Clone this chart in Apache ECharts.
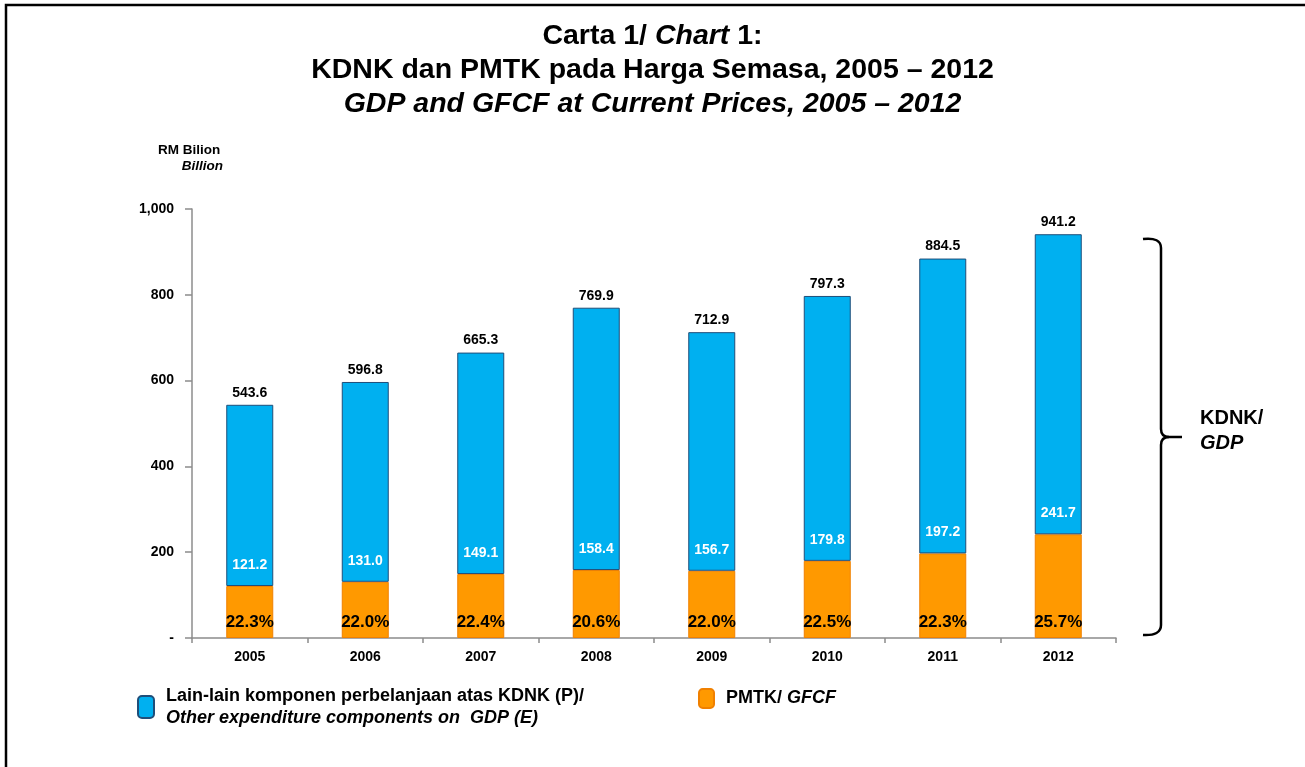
<!DOCTYPE html>
<html>
<head>
<meta charset="utf-8">
<script src="https://cdn.jsdelivr.net/npm/echarts@6/dist/echarts.min.js"></script>
<style>html,body{margin:0;padding:0;background:#fff;}#c{width:1305px;height:767px;}</style>
</head>
<body>
<div id="c"></div>
<script>
var years = ['2005','2006','2007','2008','2009','2010','2011','2012'];
var gdp = [543.6, 596.8, 665.3, 769.9, 712.9, 797.3, 884.5, 941.2];
var gfcf = [121.2, 131.0, 149.1, 158.4, 156.7, 179.8, 197.2, 241.7];
var pct = ['22.3%', '22.0%', '22.4%', '20.6%', '22.0%', '22.5%', '22.3%', '25.7%'];
var yTicks = ['-', '200', '400', '600', '800', '1,000'];

var FONT = '"Liberation Sans", Arial, sans-serif';
var other = gdp.map(function (v, i) { return +(v - gfcf[i]).toFixed(1); });
var nameOther = 'Lain-lain komponen perbelanjaan atas KDNK (P)/';
var nameGfcf = 'PMTK/ GFCF';

var BR = { stroke: '#000', lineWidth: 2.5, fill: 'none' };
function bz(x1, y1, cx, cy, x2, y2) {
  return { type: 'bezierCurve', shape: { x1: x1, y1: y1, x2: x2, y2: y2, cpx1: cx, cpy1: cy }, style: BR, silent: true };
}
function ln(x1, y1, x2, y2) {
  return { type: 'line', shape: { x1: x1, y1: y1, x2: x2, y2: y2 }, style: BR, silent: true };
}

var chart = echarts.init(document.getElementById('c'));
chart.setOption({
  backgroundColor: '#fff',
  animation: false,
  textStyle: { fontFamily: FONT },
  title: {
    left: 'center', top: 14,
    text: '{b|Carta 1/ }{bi|Chart}{b| 1:}\n{b|KDNK dan PMTK pada Harga Semasa, 2005 – 2012}\n{bi|GDP and GFCF at Current Prices, 2005 – 2012}',
    textStyle: {
      rich: {
        b: { fontFamily: FONT, fontSize: 28.5, fontWeight: 'bold', color: '#000', lineHeight: 34 },
        bi: { fontFamily: FONT, fontSize: 28.5, fontWeight: 'bold', fontStyle: 'italic', color: '#000', lineHeight: 34 }
      }
    }
  },
  grid: { left: 192, right: 189, top: 209, bottom: 129 },
  legend: [
    {
      data: [nameOther], left: 137, top: 687, padding: 0, itemWidth: 16, itemHeight: 22,
      icon: 'roundRect', selectedMode: false,
      formatter: function () { return '{a|Lain-lain komponen perbelanjaan atas KDNK (P)/}\n{i|Other expenditure components on  GDP (E)}'; },
      textStyle: {
        rich: {
          a: { fontFamily: FONT, fontSize: 18, fontWeight: 'bold', color: '#000', lineHeight: 22, padding: [0, 0, 0, 7] },
          i: { fontFamily: FONT, fontSize: 18, fontWeight: 'bold', fontStyle: 'italic', color: '#000', lineHeight: 22, padding: [0, 0, 0, 7] }
        }
      }
    },
    {
      data: [nameGfcf], left: 698, top: 688, padding: 0, itemWidth: 15, itemHeight: 19,
      icon: 'roundRect', selectedMode: false,
      formatter: function () { return '{a|PMTK/ }{i|GFCF}'; },
      textStyle: {
        rich: {
          a: { fontFamily: FONT, fontSize: 18, fontWeight: 'bold', color: '#000', padding: [0, 0, 0, 7] },
          i: { fontFamily: FONT, fontSize: 18, fontWeight: 'bold', fontStyle: 'italic', color: '#000' }
        }
      }
    }
  ],
  xAxis: {
    type: 'category', data: years,
    axisLine: { lineStyle: { color: '#8c8c8c', width: 1.5 } },
    axisTick: { show: true, length: 5, lineStyle: { color: '#8c8c8c', width: 1.5 } },
    axisLabel: { color: '#000', fontFamily: FONT, fontWeight: 'bold', fontSize: 14, margin: 12 }
  },
  yAxis: {
    type: 'value', min: 0, max: 1000, interval: 200,
    splitLine: { show: false },
    axisLine: { show: true, lineStyle: { color: '#8c8c8c', width: 1.5 } },
    axisTick: { show: true, length: 7, lineStyle: { color: '#8c8c8c', width: 1.5 } },
    axisLabel: {
      color: '#000', fontFamily: FONT, fontWeight: 'bold', fontSize: 14, margin: 18,
      formatter: function (v) { return yTicks[Math.round(v / 200)]; }
    }
  },
  series: [
    {
      name: nameGfcf, type: 'bar', stack: 'g', barWidth: 47, data: gfcf,
      itemStyle: { color: '#FF9900', borderColor: '#F08000', borderWidth: 1 },
      label: {
        show: true, position: 'insideBottom', distance: 7,
        formatter: function (p) { return pct[p.dataIndex]; },
        color: '#000', fontFamily: FONT, fontWeight: 'bold', fontSize: 17
      },
      z: 2
    },
    {
      name: nameOther, type: 'bar', stack: 'g', barWidth: 47, data: other,
      itemStyle: { color: '#00B0F0', borderColor: '#1F4E79', borderWidth: 1 },
      label: {
        show: true, position: 'top', distance: 5,
        formatter: function (p) { return gdp[p.dataIndex].toFixed(1); },
        color: '#000', fontFamily: FONT, fontWeight: 'bold', fontSize: 14
      },
      z: 2
    },
    {
      name: 'gfcfLabel', type: 'bar', stack: 'g2', barWidth: 47, barGap: '-100%',
      data: gfcf,
      itemStyle: { color: 'rgba(0,0,0,0)' },
      label: {
        show: true, position: 'top', distance: 14,
        formatter: function (p) { return gfcf[p.dataIndex].toFixed(1); },
        color: '#fff', fontFamily: FONT, fontWeight: 'bold', fontSize: 14
      },
      silent: true, z: 6
    }
  ],
  graphic: [
    { type: 'rect', shape: { x: 6, y: 5, width: 1320, height: 800 }, style: { fill: 'none', stroke: '#000', lineWidth: 2.5 }, silent: true },
    bz(1143, 239, 1161, 237, 1161, 248),
    ln(1161, 248, 1161, 429),
    bz(1161, 429, 1161, 437, 1169, 437),
    ln(1169, 437, 1182, 437),
    bz(1169, 437, 1161, 437, 1161, 445),
    ln(1161, 445, 1161, 625),
    bz(1161, 625, 1161, 636, 1143, 635),
    { type: 'text', x: 1200, y: 408, style: { text: 'KDNK/', font: 'bold 20px ' + FONT, fill: '#000' } },
    { type: 'text', x: 1200, y: 433, style: { text: 'GDP', font: 'italic bold 20px ' + FONT, fill: '#000' } },
    { type: 'text', x: 158, y: 143, style: { text: 'RM Bilion', font: 'bold 13.5px ' + FONT, fill: '#000' } },
    { type: 'text', x: 223, y: 159, style: { text: 'Billion', font: 'italic bold 13.5px ' + FONT, fill: '#000', align: 'right' } }
  ]
});
</script>
</body>
</html>
